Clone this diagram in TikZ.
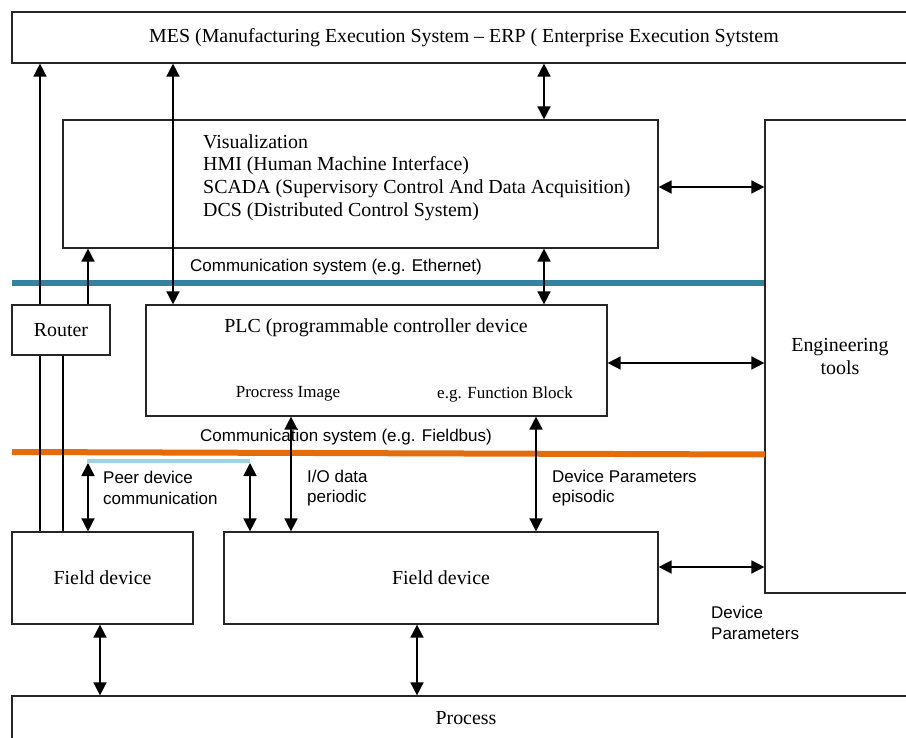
\documentclass[tikz,border=0pt]{standalone}
\usepackage{fontspec}
\setmainfont{Liberation Serif}
\newfontfamily\sansf{Liberation Sans}
\usetikzlibrary{arrows.meta}
\definecolor{ethblue}{RGB}{49,133,155}
\definecolor{fborange}{RGB}{228,108,10}
\definecolor{peerblue}{RGB}{160,210,224}
\tikzset{
  box/.style={draw=black!85, line width=1.2pt, inner sep=0pt, font=\fontsize{19.9}{22.5}\selectfont},
  serif/.style={inner sep=0pt, font=\fontsize{19.9}{22.7}\selectfont},
  smallserif/.style={inner sep=0pt, font=\fontsize{17}{20}\selectfont},
  sanslabel/.style={inner sep=0pt, align=left, font=\sansf\fontsize{17}{20.5}\selectfont},
  conn/.style={line width=1.6pt, black},
  dbl/.style={conn, {Triangle[length=13pt,width=13pt]}-{Triangle[length=13pt,width=13pt]}},
  one/.style={conn, -{Triangle[length=13pt,width=13pt]}},
  busline/.style={line width=6pt}
}
\begin{document}
\begin{tikzpicture}[x=1pt,y=-1pt]
\path[use as bounding box] (0,0) rectangle (906,738);
\clip (0,0) rectangle (906,738);

% boxes
\node[box, minimum width=904pt, minimum height=51pt] (mes) at (464,37.5)
  {MES (Manufacturing Execution System -- ERP ( Enterprise Execution Sytstem};
\node[box, minimum width=595pt, minimum height=128pt] (vis) at (360.5,184) {};
\node[serif, anchor=west, align=left] (vistext) at (203,177.5)
  {Visualization\\HMI (Human Machine Interface)\\SCADA (Supervisory Control And Data Acquisition)\\DCS (Distributed Control System)};
\node[box, minimum width=150pt, minimum height=473pt, align=center] (eng) at (840,356.5) {Engineering\\tools};
\node[box, minimum width=98pt, minimum height=50pt] (router) at (61,330) {Router};
\node[box, minimum width=461pt, minimum height=111pt] (plc) at (376.5,360.5) {};
\node[serif] (plctitle) at (376,328) {PLC (programmable controller device};
\node[smallserif] (pimage) at (288,394) {Procress Image};
\node[smallserif] (fblock) at (505,394) {e.g. Function Block};
\node[box, minimum width=181pt, minimum height=92pt] (fd1) at (102.5,578) {Field device};
\node[box, minimum width=434pt, minimum height=92pt] (fd2) at (441,578) {Field device};
\node[box, minimum width=908pt, minimum height=44pt] (proc) at (466,718) {Process};

% bus lines
\coordinate (ethL) at (12,283);
\coordinate (fbL) at (12,452);
\coordinate (fbR) at (765,454.5);
\coordinate (peerL) at (87,461);
\coordinate (peerR) at (250,461);
\draw[busline, ethblue] (ethL) -- (ethL -| eng.west);
\draw[busline, fborange] (fbL) -- (fbR);
\draw[line width=3.5pt, peerblue] (peerL) -- (peerR);

% x positions
\coordinate (x40) at (40,0);
\coordinate (x63) at (63,0);
\coordinate (x88) at (88,0);
\coordinate (x100) at (100,0);
\coordinate (x173) at (173,0);
\coordinate (x291) at (291,0);
\coordinate (x417) at (417,0);
\coordinate (x536) at (536,0);
\coordinate (x544) at (544,0);
\coordinate (y187) at (0,187);
\coordinate (y363) at (0,363);
\coordinate (y567) at (0,567);

% connectors
\draw[conn] (fd1.north -| x40) -- (router.south -| x40);
\draw[conn] (fd1.north -| x63) -- (router.south -| x63);
\draw[one] (router.north -| x40) -- (mes.south -| x40);
\draw[one] (router.north -| x88) -- (vis.south -| x88);
\draw[dbl] (plc.north -| x173) -- (mes.south -| x173);
\draw[dbl] (vis.north -| x544) -- (mes.south -| x544);
\draw[dbl] (plc.north -| x544) -- (vis.south -| x544);
\draw[dbl] (vis.east |- y187) -- (eng.west |- y187);
\draw[dbl] (plc.east |- y363) -- (eng.west |- y363);
\draw[dbl] (fd2.east |- y567) -- (eng.west |- y567);
\draw[dbl] ([yshift=-2pt]peerL -| x88) -- (fd1.north -| x88);
\draw[dbl] ([yshift=-2pt]peerR) -- (fd2.north -| peerR);
\draw[dbl] (plc.south -| x291) -- (fd2.north -| x291);
\draw[dbl] (plc.south -| x536) -- (fd2.north -| x536);
\draw[dbl] (fd1.south -| x100) -- (proc.north -| x100);
\draw[dbl] (fd2.south -| x417) -- (proc.north -| x417);

% labels
\node[sanslabel, anchor=west] (ethlabel) at (190,267) {Communication system (e.g. Ethernet)};
\node[sanslabel, anchor=west] (fblabel) at (200,437) {Communication system (e.g. Fieldbus)};
\node[sanslabel, anchor=west] (peerlabel) at (103,488) {Peer device\\communication};
\node[sanslabel, anchor=west] (iolabel) at (307,488) {I/O data\\periodic};
\node[sanslabel, anchor=west] (dplabel) at (552,488) {Device Parameters\\episodic};
\node[sanslabel, anchor=west] (dp2label) at (711,623) {Device\\Parameters};
\end{tikzpicture}
\end{document}
